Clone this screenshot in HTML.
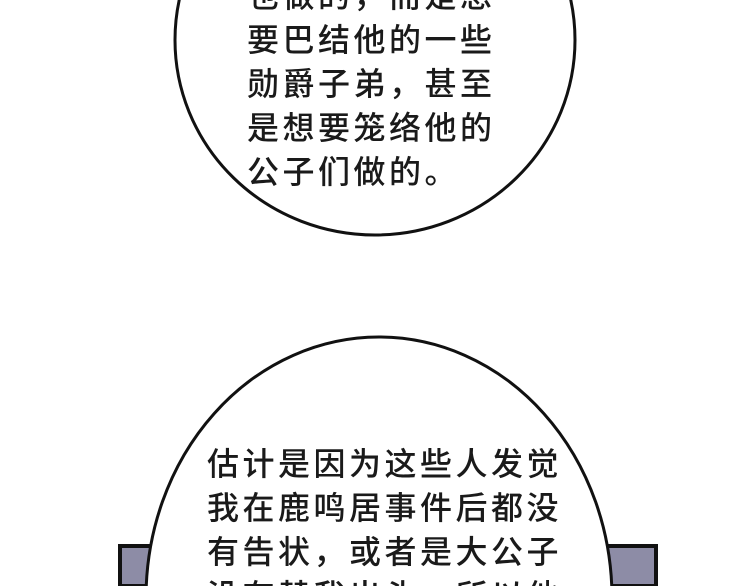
<!DOCTYPE html>
<html><head><meta charset="utf-8"><style>
html,body{margin:0;padding:0;background:#fff;overflow:hidden;width:750px;height:586px;}
#w{width:750px;height:586px;overflow:hidden;position:relative;}
svg{position:absolute;left:0;top:0;}
.t{position:absolute;font-family:"Liberation Sans","Noto Sans CJK SC",sans-serif;font-size:32px;color:#1a1a1a;letter-spacing:3.5px;line-height:44px;white-space:pre;font-weight:500;overflow:hidden;}
</style></head><body><div id="w">
<svg width="750" height="586" viewBox="0 0 750 586">
<rect x="0" y="0" width="750" height="586" fill="#fff"/>
<ellipse cx="375" cy="40" rx="200" ry="195" fill="#fff" stroke="#111" stroke-width="3"/>
<rect x="120" y="546" width="54" height="40" fill="#8d8ca6" stroke="#111" stroke-width="4"/>
<rect x="600" y="546" width="56" height="40" fill="#8d8ca6" stroke="#111" stroke-width="4"/>
<ellipse cx="379" cy="598" rx="233" ry="261" fill="#fff" stroke="#111" stroke-width="3"/>
</svg>
<div class="t" style="left:247px;top:0;height:200px;"><div style="margin-top:-26px">也做的，而是想
要巴结他的一些
勋爵子弟，甚至
是想要笼络他的
公子们做的。</div></div>
<div class="t" style="left:207px;top:442px;height:144px;">估计是因为这些人发觉
我在鹿鸣居事件后都没
有告状，或者是大公子
没有替我出头，所以他</div>
</div></body></html>
